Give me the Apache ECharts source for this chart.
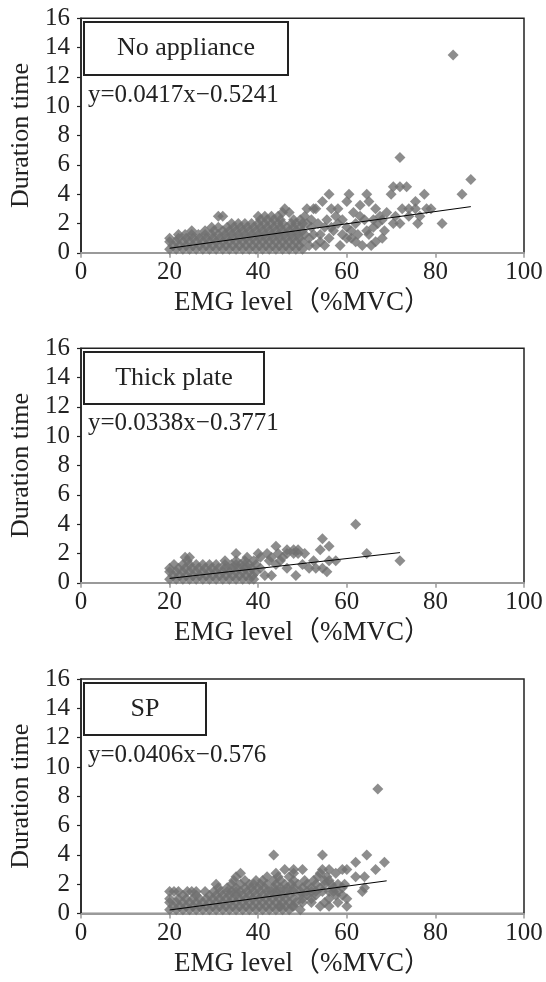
<!DOCTYPE html>
<html><head><meta charset="utf-8">
<script src="https://cdn.jsdelivr.net/npm/echarts@6/dist/echarts.min.js"></script>
<style>html,body{margin:0;padding:0;background:#fff}#c{width:546px;height:982px}</style>
</head><body><div id="c"></div>
<script>
// ---------- data ----------
const panelNames = ['No appliance', 'Thick plate', 'SP'];
const equations = ['y=0.0417x\u22120.5241', 'y=0.0338x\u22120.3771', 'y=0.0406x\u22120.576'];
const xAxisTitle = 'EMG level\uFF08%MVC\uFF09';
const yAxisTitle = 'Duration time';
const xRange = [0, 100];
const yRange = [0, 16];

const noAppliance = [
[20,0.25],[21.5,0.25],[23,0.25],[24.5,0.25],[26,0.25],[27.5,0.25],[29,0.25],[30.5,0.25],[32,0.25],[33.5,0.25],[35,0.25],[36.5,0.25],[38,0.25],[39.5,0.25],[41,0.25],[42.5,0.25],[44,0.25],[45.5,0.25],[47,0.25],[48.5,0.25],[50,0.25],
[20.75,0.5],[22.25,0.5],[23.75,0.5],[25.25,0.5],[26.75,0.5],[28.25,0.5],[29.75,0.5],[31.25,0.5],[32.75,0.5],[34.25,0.5],[35.75,0.5],[37.25,0.5],[38.75,0.5],[40.25,0.5],[41.75,0.5],[43.25,0.5],[44.75,0.5],[46.25,0.5],[47.75,0.5],[49.25,0.5],
[20,0.75],[21.5,0.75],[23,0.75],[24.5,0.75],[26,0.75],[27.5,0.75],[29,0.75],[30.5,0.75],[32,0.75],[33.5,0.75],[35,0.75],[36.5,0.75],[38,0.75],[39.5,0.75],[41,0.75],[42.5,0.75],[44,0.75],[45.5,0.75],[47,0.75],[48.5,0.75],[50,0.75],
[20,1],[22,1],[23.75,1],[25.25,1],[26.75,1],[28.25,1],[29.75,1],[31.25,1],[32.75,1],[34.25,1],[35.75,1],[37.25,1],[38.75,1],[40.25,1],[41.75,1],[43.25,1],[44.75,1],[46.25,1],[47.75,1],[49.25,1],
[22,1.25],[23.5,1.25],[25,1.25],[26.5,1.25],[28,1.25],[29.5,1.25],[31,1.25],[32.5,1.25],[34,1.25],[35.5,1.25],[37,1.25],[38.5,1.25],[40,1.25],[41.5,1.25],[43,1.25],[44.5,1.25],[46,1.25],[47.5,1.25],[49,1.25],[50.5,1.25],
[25,1.5],[28,1.5],[30,1.5],[32,1.5],[33.5,1.5],[35,1.5],[36.5,1.5],[38,1.5],[39.5,1.5],[41,1.5],[42.5,1.5],[44,1.5],[45.5,1.5],[47,1.5],[48.5,1.5],[50,1.5],
[29.5,1.75],[31,1.75],[33,1.75],[34.5,1.75],[36,1.75],[37.5,1.75],[39,1.75],[40.5,1.75],[42,1.75],[43.5,1.75],[45,1.75],[46.5,1.75],[48,1.75],[49.5,1.75],
[34,2],[35.5,2],[37,2],[38.5,2],[40,2],[41.5,2],[43,2],[44.5,2],[45.5,2],[47.5,2],[48.5,2],[50,2],[51,2],
[40.5,2.25],[42,2.25],[43.5,2.25],[45,2.25],[48,2.25],[49.5,2.25],
[31,2.5],[32,2.5],[40,2.5],[41.5,2.5],[43,2.5],[44.5,2.5],
[45.5,2.75],[47,2.75],
[46,3],[51,3],[52.5,3],
[51.5,1],[52,1.75],[53,0.5],[53.5,2],[53,3],[54.5,3.5],[55,0.5],[55.5,2.25],[56,4],[56.5,3],[57,1.5],[58,3],[58.5,0.5],[59,2.25],[60,3.5],[60.5,4],[61,1],[61.5,2.75],[62,2],[63,3.25],[63.5,0.5],[64.5,4],[64.5,1.5],[65,3.5],[65.5,0.5],[66.5,0.75],[66.5,3],[67,2],[68,1],[68.5,1.5],[69,2.75],[70,4],[70.5,2],[70.5,4.5],[71,2.5],[72,4.5],[72,2],[72.5,3],[72,6.5],[73.5,4.5],[74,2.5],[74,3],[75.5,3.5],[75.5,3],[76,2],[76.5,2.5],[77.5,4],[78,3],[79,3],[81.5,2],[84,13.5],[86,4],[88,5],
[50.5,2.5],[52,2.25],[54,1.25],[55,1.75],[56,1],[57.5,2.5],[59,1.25],[60,1.75],[62.5,1.25],[63,2.5],[66,2.25],[67.5,2.5],
[51.5,0.5],[52.5,1.25],[54,0.75],[56.5,1.75],[58,2],[60,1],[61,1.5],[62,0.75],[64,2.25],[65,1.25],[66,1.75],[68,2.25]
];

const thickPlate = [
[20,0.25],[21.5,0.25],[23,0.25],[24.5,0.25],[26,0.25],[27.5,0.25],[29,0.25],[30.5,0.25],[32,0.25],[33.5,0.25],[35,0.25],[36.5,0.25],[38,0.25],[39,0.25],
[20.75,0.5],[22.25,0.5],[23.75,0.5],[25.25,0.5],[26.75,0.5],[28.25,0.5],[29.75,0.5],[31.25,0.5],[32.75,0.5],[34.25,0.5],[35.75,0.5],[37.25,0.5],[38.75,0.5],
[20,0.75],[21.5,0.75],[23,0.75],[24.5,0.75],[26,0.75],[27.5,0.75],[29,0.75],[30.5,0.75],[32,0.75],[33.5,0.75],[35,0.75],[36.5,0.75],[38,0.75],[39.5,0.75],
[20,1],[22,1],[23.5,1],[25,1],[26.5,1],[28,1],[29.5,1],[31,1],[32.5,1],[34,1],[35.5,1],[37,1],[38.5,1],[40.5,1],
[21,1.25],[23,1.25],[24.5,1.25],[26,1.25],[27.5,1.25],[29,1.25],[30.5,1.25],[32.5,1.25],[34,1.25],[35,1.25],[36,1.25],[37,1.25],[38,1.25],[39.5,1.25],
[24,1.5],[32.5,1.5],[35,1.5],[37,1.5],[39,1.5],[42.5,1.5],[45,1.5],
[23.5,1.75],[24.5,1.75],[37.5,1.75],[40.5,1.75],[43,1.75],
[35,2],[40,2],[42,2],[44.5,2],[46.5,2],[48,2],[49,2],[50.5,2],[64.5,2],
[41.5,0.5],[43,0.5],[44,1.25],[45.5,1.75],[46.5,1],[48.5,0.5],[50,1.25],[51.5,1],[52.5,1.5],[53,1],[54.5,1],[55.5,0.75],[56,1.5],[57.5,1.5],
[44,2.5],[48,2.25],[49,2.25],[54,2.25],[54.5,3],[56,2.5],[62,4],[72,1.5],[46.5,2.25]
];

const sp = [
[20,0.25],[21.5,0.25],[23,0.25],[24.5,0.25],[26,0.25],[27.5,0.25],[29,0.25],[30.5,0.25],[32,0.25],[33.5,0.25],[35,0.25],[36.5,0.25],[38,0.25],[39.5,0.25],[41,0.25],[42.5,0.25],[44,0.25],[45.5,0.25],[47,0.25],
[20.75,0.5],[22.25,0.5],[23.75,0.5],[25.25,0.5],[26.75,0.5],[28.25,0.5],[29.75,0.5],[31.25,0.5],[32.75,0.5],[34.25,0.5],[35.75,0.5],[37.25,0.5],[38.75,0.5],[40.25,0.5],[41.75,0.5],[43.25,0.5],[44.75,0.5],[46.25,0.5],[47.75,0.5],
[20,0.75],[21.5,0.75],[23,0.75],[24.5,0.75],[26,0.75],[27.5,0.75],[29,0.75],[30.5,0.75],[32,0.75],[33.5,0.75],[35,0.75],[36.5,0.75],[38,0.75],[39.5,0.75],[41,0.75],[42.5,0.75],[44,0.75],[45.5,0.75],[47,0.75],[48.5,0.75],
[20,1],[22,1],[23.75,1],[25.25,1],[26.75,1],[28.25,1],[29.75,1],[31.25,1],[32.75,1],[34.25,1],[35.75,1],[37.25,1],[38.75,1],[40.25,1],[41.75,1],[43.25,1],[44.75,1],[46.25,1],[48,1],[50,1],[52,1],
[23,1.25],[26,1.25],[29,1.25],[30.5,1.25],[32,1.25],[33.5,1.25],[35,1.25],[36.5,1.25],[38,1.25],[39.5,1.25],[41,1.25],[42.5,1.25],[44,1.25],[45.5,1.25],[47,1.25],[49.5,1.25],[51,1.25],
[20,1.5],[21,1.5],[22,1.5],[24,1.5],[25,1.5],[26,1.5],[28,1.5],[30,1.5],[31.5,1.5],[33,1.5],[34,1.5],[35,1.5],[36,1.5],[37.5,1.5],[39,1.5],[40.5,1.5],[42,1.5],[43,1.5],[44,1.5],[45,1.5],[46.5,1.5],[48,1.5],[49.5,1.5],[51,1.5],[52,1.5],[53,1.5],[54.5,1.5],[56,1.5],[57,1.5],[58,1.5],[63.5,1.5],
[31,1.75],[33,1.75],[35,1.75],[37,1.75],[38.5,1.75],[40,1.75],[41.5,1.75],[43.5,1.75],[45,1.75],[46.5,1.75],[48,1.75],[50,1.75],[52,1.75],[54,1.75],[57,1.75],[59,1.75],[64,1.75],
[30.5,2],[34,2],[36,2],[38,2],[39,2],[40.5,2],[42,2],[44,2],[46,2],[47.5,2],[49,2],[51,2],[53,2],[55,2],[56.5,2],[58,2],[59.5,2],
[34.5,2.25],[37,2.25],[39.5,2.25],[41,2.25],[43.5,2.25],[45,2.25],[48,2.25],[50.5,2.25],[52.5,2.25],[55,2.25],[56,2.25],
[35,2.5],[42,2.5],[44.5,2.5],[47,2.5],[53.5,2.5],[55.5,2.5],[62,2.5],[64,2.5],
[36,2.75],[44,2.75],[48,2.75],[54,2.75],[57.5,2.75],
[46,3],[48,3],[50,3],[54.5,3],[56,3],[59,3],[60,3],[66.5,3],
[62,3.5],[68.5,3.5],
[43.5,4],[54.5,4],[64.5,4],
[67,8.5],
[45,0.5],[48,0.5],[50,0.75],[54,0.5],[56,0.5],[58,0.75],[60,0.5],[52,0.75],[56,1],[59,1.25],[60,1],[49.5,0.25],[53,1.25],[55,0.75],[57.5,1.25]
];

// trendline end points
const trendNoAppliance = [[20, 0.31], [88, 3.15]];
const trendThickPlate = [[20, 0.30], [72, 2.06]];
const trendSP = [[20, 0.24], [69, 2.23]];

// ---------- chart ----------
const panelData = [noAppliance, thickPlate, sp];
const panelTrend = [trendNoAppliance, trendThickPlate, trendSP];
const FONT = "'Liberation Serif','Times New Roman','Noto Sans CJK JP',serif";
const TOPS = [18.3, 348.3, 679];
const PLOT_H = 234.5;
const BOXES = [
  {x: 84, y: 22, w: 204, h: 53},
  {x: 84, y: 352, w: 180, h: 52},
  {x: 84, y: 683, w: 122, h: 52}
];
const EQ_Y = [95, 423, 755];

const grids = [], xAxes = [], yAxes = [], series = [], graphics = [];
for (let i = 0; i < 3; i++) {
  grids.push({left: 81, width: 443, top: TOPS[i], height: PLOT_H, show: true,
    borderColor: '#222', borderWidth: 1.5, backgroundColor: 'transparent'});
  xAxes.push({type: 'value', gridIndex: i, min: xRange[0], max: xRange[1], interval: 20,
    name: xAxisTitle, nameLocation: 'middle', nameGap: 37,
    nameTextStyle: {fontFamily: FONT, fontSize: 27, color: '#222'},
    axisLine: {show: true, lineStyle: {color: '#9a9a9a', width: 2}},
    axisTick: {show: true, inside: false, length: 5, lineStyle: {color: '#9a9a9a', width: 1.5}},
    axisLabel: {fontFamily: FONT, fontSize: 25, color: '#222', margin: 7},
    splitLine: {show: false}});
  yAxes.push({type: 'value', gridIndex: i, min: yRange[0], max: yRange[1], interval: 2,
    name: yAxisTitle, nameLocation: 'middle', nameGap: 47, nameRotate: 90,
    nameTextStyle: {fontFamily: FONT, fontSize: 26, color: '#222'},
    axisLine: {show: true, lineStyle: {color: '#222', width: 1.5}},
    axisTick: {show: true, inside: false, length: 4, lineStyle: {color: '#222', width: 1.2}},
    axisLabel: {fontFamily: FONT, fontSize: 25, color: '#222', margin: 11},
    splitLine: {show: false}});
  series.push({type: 'scatter', xAxisIndex: i, yAxisIndex: i, data: panelData[i],
    symbol: 'diamond', symbolSize: 11, itemStyle: {color: '#717171'},
    emphasis: {disabled: true}, silent: true, z: 2});
  series.push({type: 'line', xAxisIndex: i, yAxisIndex: i, data: panelTrend[i],
    showSymbol: false, symbol: 'none', lineStyle: {color: '#000', width: 1}, silent: true, z: 3});
  const b = BOXES[i];
  graphics.push({type: 'rect', shape: {x: b.x, y: b.y, width: b.w, height: b.h},
    style: {fill: '#fff', stroke: '#222', lineWidth: 2}, z: 10});
  graphics.push({type: 'text', x: b.x + b.w / 2, y: b.y + b.h / 2,
    style: {text: panelNames[i], font: '26px ' + FONT, fill: '#222', align: 'center', verticalAlign: 'middle'}, z: 11});
  graphics.push({type: 'text', x: 88, y: EQ_Y[i],
    style: {text: equations[i], font: '25px ' + FONT, fill: '#222', align: 'left', verticalAlign: 'middle'}, z: 11});
}

const chart = echarts.init(document.getElementById('c'), null, {renderer: 'canvas'});
chart.setOption({animation: false, backgroundColor: '#fff', grid: grids, xAxis: xAxes, yAxis: yAxes,
  series: series, graphic: graphics});
</script></body></html>
